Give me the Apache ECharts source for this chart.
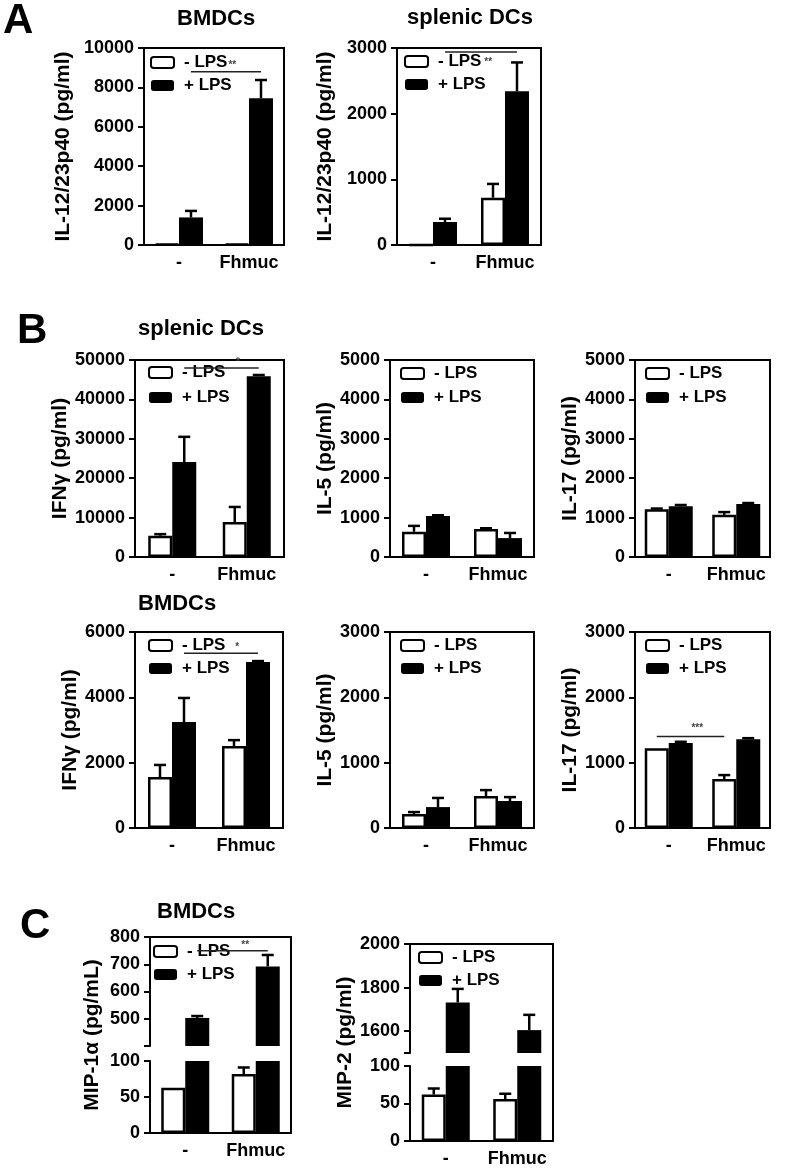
<!DOCTYPE html>
<html><head><meta charset="utf-8">
<script src="https://cdn.jsdelivr.net/npm/echarts@6/dist/echarts.min.js"></script>
<style>html,body{margin:0;padding:0;background:#fff}#c{width:787px;height:1169px}</style>
</head><body><div id="c"></div>
<script>
// ---------------- DATA ----------------
const categories = ['-', 'Fhmuc'];
const seriesNames = ['- LPS', '+ LPS'];

// Panel A, BMDCs, IL-12/23p40
const a1Minus = [60, 60];
const a1MinusSd = [0, 0];
const a1Plus = [1400, 7450];
const a1PlusSd = [330, 925];
const a1Ticks = [0, 2000, 4000, 6000, 8000, 10000];
const a1Sig = [8800];

// Panel A, splenic DCs, IL-12/23p40
const a2Minus = [0, 720];
const a2MinusSd = [0, 210];
const a2Plus = [350, 2340];
const a2PlusSd = [50, 440];
const a2Ticks = [0, 1000, 2000, 3000];
const a2Sig = [2940];

// Panel B, splenic DCs
const b1Minus = [5400, 8900];
const b1MinusSd = [400, 3800];
const b1Plus = [24100, 45900];
const b1PlusSd = [6400, 300];
const b1Ticks = [0, 10000, 20000, 30000, 40000, 50000];
const b1Sig = [48000];

const b2Minus = [640, 710];
const b2MinusSd = [150, 20];
const b2Plus = [1040, 480];
const b2PlusSd = [20, 130];
const b2Ticks = [0, 1000, 2000, 3000, 4000, 5000];

const b3Minus = [1210, 1070];
const b3MinusSd = [20, 70];
const b3Plus = [1290, 1345];
const b3PlusSd = [30, 25];
const b3Ticks = [0, 1000, 2000, 3000, 4000, 5000];

// Panel B, BMDCs
const b4Minus = [1560, 2510];
const b4MinusSd = [370, 180];
const b4Plus = [3245, 5080];
const b4PlusSd = [735, 30];
const b4Ticks = [0, 2000, 4000, 6000];
const b4Sig = [5350];

const b5Minus = [214, 490];
const b5MinusSd = [30, 90];
const b5Plus = [320, 413];
const b5PlusSd = [140, 60];
const b5Ticks = [0, 1000, 2000, 3000];

const b6Minus = [1220, 750];
const b6MinusSd = [0, 60];
const b6Plus = [1300, 1360];
const b6PlusSd = [20, 15];
const b6Ticks = [0, 1000, 2000, 3000];
const b6Sig = [1400];

// Panel C, BMDCs (broken axes)
const c1Minus = [63, 82];
const c1MinusSd = [0, 9];
const c1Plus = [503, 692];
const c1PlusSd = [7, 42];
const c1UpperTicks = [400, 500, 600, 700, 800];
const c1UpperLabels = [500, 600, 700, 800];
const c1LowerTicks = [0, 50, 100];
const c1Sig = [750];

const c2Minus = [62, 56];
const c2MinusSd = [8, 7];
const c2Plus = [1732, 1605];
const c2PlusSd = [62, 70];
const c2UpperTicks = [1500, 1600, 1800, 2000];
const c2UpperLabels = [1600, 1800, 2000];
const c2LowerTicks = [0, 50, 100];

// ---------------- BUILD ----------------
const FONT = "'Liberation Sans', Arial, Helvetica, sans-serif";
const BW = 24;
const LINE = {color: '#000', width: 2};
const grids = [], xAxes = [], yAxes = [], series = [], legends = [], titles = [];

function txt(size) { return {color: '#000', fontSize: size, fontWeight: 'bold', fontFamily: FONT}; }

function addSegment(box, o) {
  const gi = grids.length;
  grids.push({left: box[0], top: box[2], width: box[1] - box[0], height: box[3] - box[2],
    show: !!o.border, borderColor: '#000', borderWidth: 2, backgroundColor: 'transparent'});
  const xi = xAxes.length;
  xAxes.push({type: 'category', gridIndex: gi, data: categories, show: o.showX !== false,
    axisLine: {onZero: false, lineStyle: LINE},
    axisTick: {alignWithLabel: true, length: 6, lineStyle: LINE},
    axisLabel: Object.assign(txt(18), {margin: 9, interval: 0, hideOverlap: false})});
  const yi = yAxes.length;
  const t = o.ticks;
  const y = {type: 'value', gridIndex: gi, min: t[0], max: t[t.length - 1],
    splitLine: {show: false},
    axisLine: {show: true, onZero: false, lineStyle: LINE},
    axisTick: {show: true, length: 6, lineStyle: LINE},
    axisLabel: Object.assign(txt(18), {margin: 10, formatter: v => String(v)})};
  if (o.labels) {
    y.axisTick.customValues = t;
    y.axisLabel.customValues = o.labels;
  } else {
    y.interval = t[1] - t[0];
  }
  if (o.name) {
    y.name = o.name; y.nameLocation = 'middle'; y.nameGap = o.nameGap;
    y.nameTextStyle = txt(21);
  }
  yAxes.push(y);
  return {gi, xi, yi};
}

function addFrame(box, name, nameGap) {
  const gi = grids.length;
  grids.push({left: box[0], top: box[2], width: box[1] - box[0], height: box[3] - box[2], show: false});
  const off = {show: false};
  xAxes.push({type: 'value', gridIndex: gi, position: 'top', min: 0, max: 1,
    axisLine: {show: true, onZero: false, lineStyle: LINE}, axisTick: off, axisLabel: off, splitLine: off});
  yAxes.push({type: 'value', gridIndex: gi, position: 'right', min: 0, max: 1,
    axisLine: {show: true, onZero: false, lineStyle: LINE}, axisTick: off, axisLabel: off, splitLine: off});
  yAxes.push({type: 'value', gridIndex: gi, position: 'left', min: 0, max: 1,
    axisLine: {show: false, onZero: false}, axisTick: off, axisLabel: off, splitLine: off,
    name: name, nameLocation: 'middle', nameGap: nameGap, nameTextStyle: txt(21)});
}

function errSeries(seg, vals, sds, offset) {
  return {type: 'custom', coordinateSystem: 'cartesian2d', xAxisIndex: seg.xi, yAxisIndex: seg.yi,
    silent: true, z: 3, encode: {x: 0, y: 1},
    data: vals.map((v, i) => [i, v, sds[i]]),
    renderItem: function (params, api) {
      const c = api.value(0), v = api.value(1), sd = api.value(2);
      if (!sd) return null;
      const p0 = api.coord([c, v]), p1 = api.coord([c, v + sd]);
      const x = p0[0] + offset;
      return {type: 'group', children: [
        {type: 'line', shape: {x1: x, y1: p0[1], x2: x, y2: p1[1]}, style: {stroke: '#000', lineWidth: 2.5}},
        {type: 'line', shape: {x1: x - 6, y1: p1[1], x2: x + 6, y2: p1[1]}, style: {stroke: '#000', lineWidth: 2.5}}
      ]};
    }};
}

function addBars(seg, minus, minusSd, plus, plusSd, which) {
  which = which || {minus: true, plus: true};
  series.push({type: 'bar', name: seriesNames[0], xAxisIndex: seg.xi, yAxisIndex: seg.yi, data: minus,
    barWidth: BW, barGap: '0%', z: 2,
    itemStyle: {color: '#fff', borderColor: '#000', borderWidth: 2.5}});
  series.push({type: 'bar', name: seriesNames[1], xAxisIndex: seg.xi, yAxisIndex: seg.yi, data: plus,
    barWidth: BW, barGap: '0%', z: 2,
    itemStyle: {color: '#000', borderColor: '#000', borderWidth: 0}});
  if (which.minus) series.push(errSeries(seg, minus, minusSd, -BW / 2));
  if (which.plus) series.push(errSeries(seg, plus, plusSd, BW / 2));
}

function addSig(seg, sig, side, frac, dy, label) {
  series.push({type: 'custom', coordinateSystem: 'cartesian2d', xAxisIndex: seg.xi, yAxisIndex: seg.yi,
    silent: true, z: 5, zlevel: 0, encode: {x: 0, y: 1},
    data: sig.map(v => [0, v]),
    renderItem: function (params, api) {
      const y = api.value(1);
      const a = api.coord([0, y]), b = api.coord([1, y]);
      const x1 = a[0] + side * BW / 2, x2 = b[0] + side * BW / 2;
      return {type: 'group', children: [
        {type: 'line', shape: {x1: x1, y1: a[1], x2: x2, y2: a[1]}, style: {stroke: '#222', lineWidth: 1.5}},
        {type: 'text', x: x1 + (x2 - x1) * frac, y: a[1] + dy, z2: 10,
          style: {text: label, fill: '#444', font: 'bold 10px ' + FONT, align: 'center', verticalAlign: 'middle'}}
      ]};
    }});
}

function addLegend(left, top, gap, bg) {
  legends.push({left: left, top: top, orient: 'vertical', padding: 0, itemWidth: 23, itemHeight: 11,
    itemGap: gap, icon: 'roundRect', selectedMode: false, backgroundColor: bg || 'transparent', z: 4,
    data: [
      {name: seriesNames[0], itemStyle: {color: '#fff', borderColor: '#000', borderWidth: 2}},
      {name: seriesNames[1], itemStyle: {color: '#000', borderWidth: 0}}
    ],
    textStyle: Object.assign(txt(17), {lineHeight: 16, padding: [0, 0, 0, 5]})});
}

function addTitle(text, left, top, size) {
  titles.push({text: text, left: left, top: top, padding: 0, textStyle: txt(size)});
}

// ----- Panel A -----
addTitle('A', 3, 0, 42);
addTitle('BMDCs', 177, 8, 22);
addTitle('splenic DCs', 407, 7, 22);
let s = addSegment([144, 284, 48, 245], {border: true, ticks: a1Ticks, name: 'IL-12/23p40 (pg/ml)', nameGap: 70});
addBars(s, a1Minus, a1MinusSd, a1Plus, a1PlusSd);
addSig(s, a1Sig, 1, 0.59, -6, '**');
addLegend(150, 54, 6);

s = addSegment([397, 541, 48, 245], {border: true, ticks: a2Ticks, name: 'IL-12/23p40 (pg/ml)', nameGap: 61});
addBars(s, a2Minus, a2MinusSd, a2Plus, a2PlusSd);
addSig(s, a2Sig, 1, 0.6, 10, '**');
addLegend(404, 53, 6);

// ----- Panel B -----
addTitle('B', 17, 310, 42);
addTitle('splenic DCs', 138, 318, 22);
addTitle('BMDCs', 138, 593, 22);
s = addSegment([135, 284, 360, 557], {border: true, ticks: b1Ticks, name: 'IFNγ (pg/ml)', nameGap: 63});
addBars(s, b1Minus, b1MinusSd, b1Plus, b1PlusSd);
addSig(s, b1Sig, 1, 0.72, -6, '*');
addLegend(148, 364, 8);

s = addSegment([390, 534, 360, 557], {border: true, ticks: b2Ticks, name: 'IL-5 (pg/ml)', nameGap: 54});
addBars(s, b2Minus, b2MinusSd, b2Plus, b2PlusSd);
addLegend(400, 365, 7);

s = addSegment([635, 770, 360, 557], {border: true, ticks: b3Ticks, name: 'IL-17 (pg/ml)', nameGap: 52});
addBars(s, b3Minus, b3MinusSd, b3Plus, b3PlusSd);
addLegend(645, 365, 7);

s = addSegment([135, 283, 632, 828], {border: true, ticks: b4Ticks, name: 'IFNγ (pg/ml)', nameGap: 52});
addBars(s, b4Minus, b4MinusSd, b4Plus, b4PlusSd);
addSig(s, b4Sig, 1, 0.72, -6, '*');
addLegend(148, 637, 6);

s = addSegment([390, 534, 632, 828], {border: true, ticks: b5Ticks, name: 'IL-5 (pg/ml)', nameGap: 54});
addBars(s, b5Minus, b5MinusSd, b5Plus, b5PlusSd);
addLegend(400, 637, 6);

s = addSegment([635, 770, 632, 828], {border: true, ticks: b6Ticks, name: 'IL-17 (pg/ml)', nameGap: 52});
addBars(s, b6Minus, b6MinusSd, b6Plus, b6PlusSd);
addSig(s, b6Sig, -1, 0.6, -8, '***');
addLegend(645, 637, 6);

// ----- Panel C -----
addTitle('C', 20, 905, 42);
addTitle('BMDCs', 157, 901, 22);
addFrame([150, 291, 937, 1133], 'MIP-1α (pg/mL)', 47);
s = addSegment([150, 291, 937, 1046], {showX: false, ticks: c1UpperTicks, labels: c1UpperLabels});
addBars(s, c1Minus, c1MinusSd, c1Plus, c1PlusSd, {plus: true});
addSig(s, c1Sig, 1, 0.68, -5, '**');
s = addSegment([150, 291, 1061, 1133], {ticks: c1LowerTicks});
addBars(s, c1Minus, c1MinusSd, c1Plus, c1PlusSd, {minus: true});
addLegend(153, 943, 6);

addFrame([410, 553, 944, 1141], 'MIP-2 (pg/ml)', 54);
s = addSegment([410, 553, 944, 1053], {showX: false, ticks: c2UpperTicks, labels: c2UpperLabels});
addBars(s, c2Minus, c2MinusSd, c2Plus, c2PlusSd, {plus: true});
s = addSegment([410, 553, 1066, 1141], {ticks: c2LowerTicks});
addBars(s, c2Minus, c2MinusSd, c2Plus, c2PlusSd, {minus: true});
addLegend(418, 949, 6);

const chart = echarts.init(document.getElementById('c'), null, {renderer: 'canvas'});
chart.setOption({
  animation: false,
  backgroundColor: '#fff',
  title: titles,
  legend: legends,
  grid: grids,
  xAxis: xAxes,
  yAxis: yAxes,
  series: series
});
</script>
</body></html>
